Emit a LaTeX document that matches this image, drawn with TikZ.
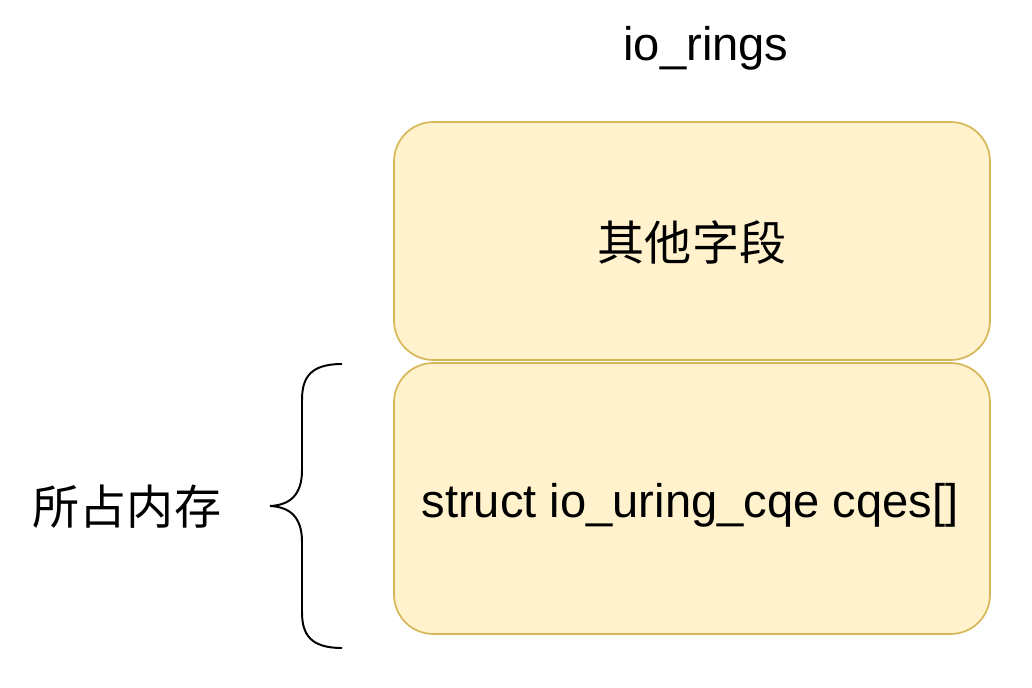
\documentclass[tikz,border=0pt]{standalone}
\usepackage{fontspec}
\setmainfont{Liberation Sans}
\newfontfamily\cjk{Noto Sans CJK SC}
\definecolor{boxfill}{HTML}{FFF2CC}
\definecolor{boxline}{HTML}{D6B656}
\begin{document}
\begin{tikzpicture}[x=0.025cm, y=-0.025cm]
  \tikzset{field/.style={draw=boxline, fill=boxfill, line width=1.2pt, rounded corners=28pt},
    lbl/.style={font=\fontsize{33.5}{38}\selectfont}}
  \useasboundingbox (0,0) rectangle (1032,688);
  \draw[field] (394,122) rectangle (990,360);
  \draw[field] (394,363) rectangle (990,634);
  \node[lbl] (title) at (706,48) {io\_rings};
  \node[lbl] (other) at (692,243) {\cjk 其他字段};
  \node[lbl] (cqes) at (690,505) {struct io\_uring\_cqe cqes[]};
  \node[lbl] (mem) at (127,507) {\cjk 所占内存};
  % brace
  \draw[line width=1.4pt] (342,364) .. controls (310,364) and (302,378) .. (302,400)
    -- (302,470) .. controls (302,495) and (290,505) .. (270,506)
    .. controls (290,507) and (302,517) .. (302,542)
    -- (302,612) .. controls (302,634) and (310,648) .. (342,648);
\end{tikzpicture}
\end{document}
